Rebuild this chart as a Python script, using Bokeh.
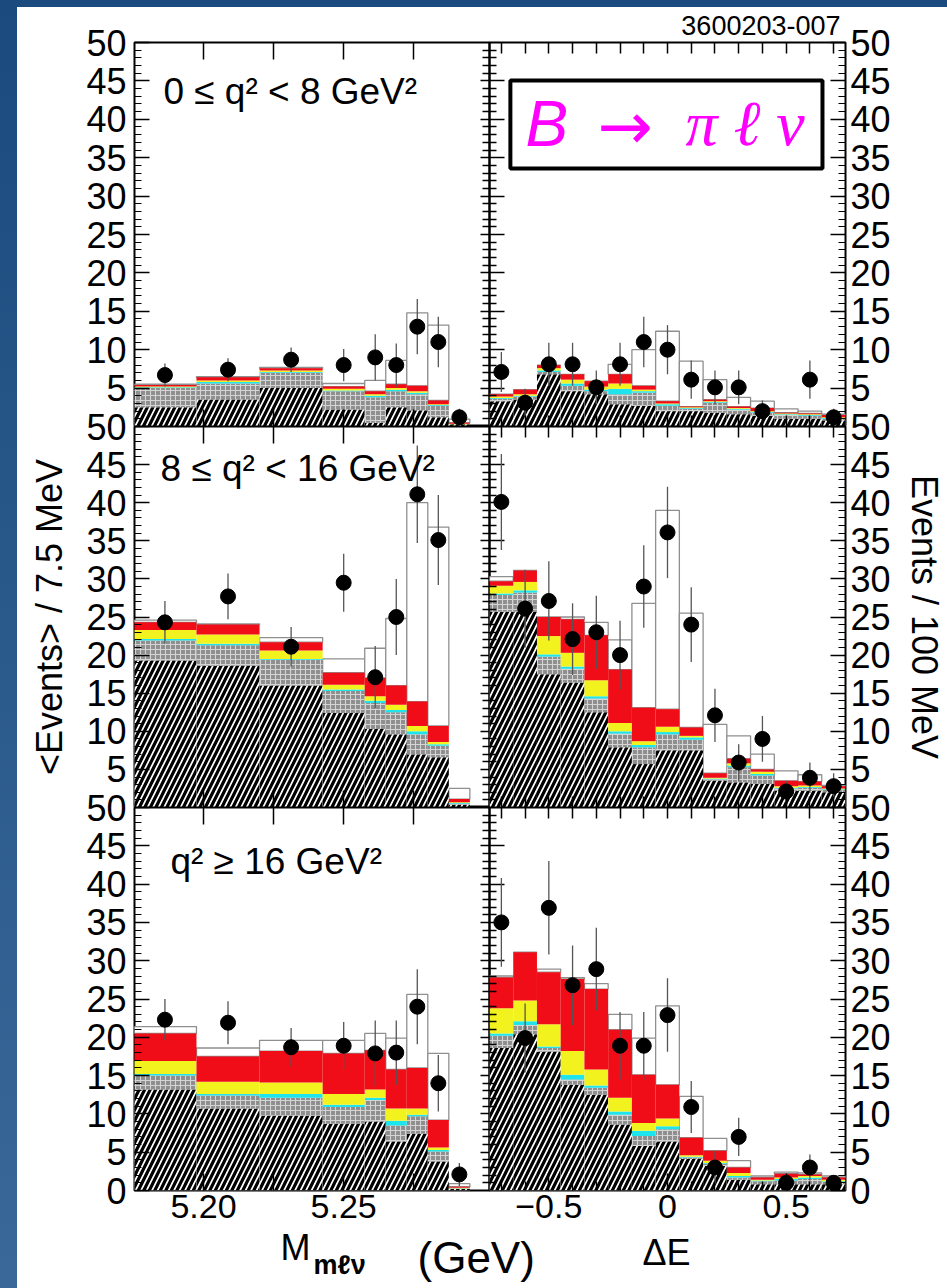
import numpy as np
from bokeh.plotting import figure
from bokeh.models import (Range1d, LinearAxis, FixedTicker, Label,
                          BoxAnnotation, ColumnDataSource, Spacer)
from bokeh.layouts import row, column
from bokeh.embed import file_html
from bokeh.resources import INLINE

NAN = float("nan")

# ---------------- bins and ticks ----------------
M_EDGES = [5.175, 5.1975, 5.22, 5.2425, 5.2575, 5.265, 5.2725, 5.28, 5.2875, 5.295]
DE_EDGES = [-0.75, -0.65, -0.55, -0.45, -0.35, -0.25, -0.15, -0.05,
            0.05, 0.15, 0.25, 0.35, 0.45, 0.55, 0.65, 0.75]
M_MAJOR = [5.2, 5.25]
M_MINOR = [5.225, 5.275]
M_ALL = [5.2, 5.225, 5.25, 5.275]
DE_MAJOR = [-0.5, 0, 0.5]
DE_MINOR = [-0.7, -0.6, -0.4, -0.3, -0.2, -0.1, 0.1, 0.2, 0.3, 0.4, 0.6, 0.7]
DE_ALL = [-0.7, -0.6, -0.5, -0.4, -0.3, -0.2, -0.1, 0, 0.1, 0.2, 0.3, 0.4, 0.5, 0.6, 0.7]
Y_MAJOR_FULL = [0, 5, 10, 15, 20, 25, 30, 35, 40, 45, 50]
Y_MAJOR_NOZERO = [5, 10, 15, 20, 25, 30, 35, 40, 45, 50]
Y_INNER_MAJOR = [5, 10, 15, 20, 25, 30, 35, 40, 45]
Y_MINOR = [v for v in range(1, 50) if v % 5]

# ---------------- top row: 0 <= q2 < 8 ----------------
TL_HATCH = [2.5, 3.5, 5.0, 2.2, 0.5, 2.5, 2.1, 1.2, 0.3]
TL_GRAY = [5.0, 5.6, 7.0, 4.6, 3.8, 4.6, 4.2, 2.7, 0.3]
TL_CYAN = [5.1, 5.8, 7.1, 4.7, 4.0, 4.8, 4.4, 2.8, 0.3]
TL_YELLOW = [5.2, 6.0, 7.3, 4.9, 4.2, 5.0, 4.6, 2.9, 0.35]
TL_RED = [5.4, 6.4, 7.6, 5.2, 4.6, 5.5, 5.3, 3.4, 0.5]
TL_TOTAL = [5.5, 6.5, 7.7, 5.6, 6.0, 8.6, 14.8, 13.2, 0.95]
TL_DATA = [6.7, 7.4, 8.7, 8.0, 9.0, 8.0, 13.0, 11.0, 1.2]
TL_ERR = [1.5, 1.5, 1.6, 2.1, 3.0, 2.8, 3.6, 3.3, 1.1]

TR_HATCH = [3.3, 3.5, 6.8, 4.6, 4.2, 2.9, 2.7, 2.0, 2.0, 1.8, 1.6, 1.4, 1.0, 1.0, 0.8]
TR_GRAY = [3.6, 3.9, 7.1, 5.3, 4.6, 4.2, 4.4, 2.7, 2.3, 3.1, 2.2, 1.8, 1.5, 1.4, 1.0]
TR_CYAN = [3.7, 4.0, 7.3, 5.6, 4.8, 4.9, 4.6, 2.9, 2.4, 3.2, 2.3, 1.9, 1.6, 1.5, 1.1]
TR_YELLOW = [3.9, 4.2, 7.6, 6.1, 5.2, 5.6, 4.8, 3.0, 2.5, 3.3, 2.4, 2.0, 1.7, 1.6, 1.2]
TR_RED = [4.2, 4.8, 8.0, 6.8, 5.9, 6.8, 5.3, 3.3, 2.6, 3.5, 2.6, 2.4, 1.8, 1.7, 1.5]
TR_TOTAL = [4.2, 4.8, 8.0, 6.8, 5.9, 8.1, 10.0, 12.4, 8.5, 6.1, 3.8, 3.3, 2.3, 2.0, 1.6]
TR_DATA = [7.1, 3.1, 8.1, 8.1, 5.1, 8.1, 11.0, 10.0, 6.1, 5.1, 5.1, 2.0, NAN, 6.1, 1.2]
TR_ERR = [2.6, 1.8, 2.8, 2.8, 2.2, 2.8, 3.3, 3.2, 2.5, 2.2, 2.2, 1.4, 0.0, 2.5, 1.1]

# ---------------- middle row: 8 <= q2 < 16 ----------------
ML_HATCH = [19.3, 18.6, 16.0, 12.4, 10.3, 9.6, 7.0, 6.6, 0.4]
ML_GRAY = [21.9, 21.3, 19.4, 15.3, 13.7, 12.5, 9.6, 8.1, 0.5]
ML_CYAN = [22.1, 21.5, 19.5, 15.5, 14.0, 12.8, 10.0, 8.3, 0.6]
ML_YELLOW = [23.3, 22.7, 20.6, 16.1, 14.6, 13.5, 10.7, 8.6, 0.7]
ML_RED = [24.3, 24.0, 21.7, 17.7, 17.0, 16.0, 13.9, 10.7, 1.1]
ML_TOTAL = [24.6, 24.1, 22.3, 19.5, 20.9, 24.8, 40.0, 36.8, 2.5]
ML_DATA = [24.3, 27.7, 21.1, 29.5, 17.1, 25.0, 41.1, 35.1, NAN]
ML_ERR = [2.8, 3.0, 2.6, 3.8, 4.1, 5.0, 6.4, 5.9, 0.0]

MR_HATCH = [25.7, 25.7, 17.5, 16.4, 12.5, 7.9, 5.7, 7.5, 7.5, 3.5, 3.3, 3.1, 2.2, 2.2, 2.0]
MR_GRAY = [27.9, 28.2, 19.8, 18.2, 14.3, 9.7, 7.9, 9.6, 8.9, 3.7, 5.3, 4.2, 2.5, 2.6, 2.3]
MR_CYAN = [28.1, 28.5, 20.1, 18.5, 14.6, 10.0, 8.2, 9.9, 9.2, 3.8, 5.5, 4.4, 2.6, 2.7, 2.4]
MR_YELLOW = [29.1, 29.6, 22.5, 20.3, 16.7, 11.1, 8.7, 10.6, 9.4, 3.9, 5.8, 4.7, 2.8, 2.9, 2.5]
MR_RED = [29.7, 31.1, 25.0, 24.7, 22.6, 18.1, 13.1, 12.9, 10.5, 4.5, 6.4, 5.0, 3.5, 3.4, 2.8]
MR_TOTAL = [30.3, 31.1, 25.0, 25.0, 24.3, 22.0, 26.8, 39.0, 25.5, 10.9, 9.4, 7.0, 4.8, 4.3, 2.9]
MR_DATA = [40.1, 26.1, 27.1, 22.1, 23.0, 20.0, 29.0, 36.1, 24.0, 12.1, 5.9, 9.0, 2.1, 3.9, 2.8]
MR_ERR = [6.3, 5.1, 5.2, 4.7, 4.8, 4.5, 5.4, 6.0, 4.9, 3.5, 2.4, 3.0, 1.4, 2.0, 1.7]

# ---------------- bottom row: q2 >= 16 ----------------
BL_HATCH = [13.2, 10.7, 9.8, 8.7, 9.0, 6.4, 7.4, 3.8, 0.2]
BL_GRAY = [15.0, 12.4, 12.1, 10.9, 11.8, 8.5, 9.7, 5.1, 0.25]
BL_CYAN = [15.2, 12.6, 12.6, 11.2, 12.1, 9.1, 9.9, 5.3, 0.3]
BL_YELLOW = [16.9, 14.2, 14.1, 12.6, 13.2, 10.7, 10.7, 5.6, 0.35]
BL_RED = [20.5, 17.5, 18.2, 17.9, 18.3, 15.8, 16.0, 9.2, 0.5]
BL_TOTAL = [21.4, 18.6, 19.6, 19.6, 20.5, 19.9, 25.6, 17.9, 0.9]
BL_DATA = [22.3, 21.9, 18.7, 18.9, 17.9, 18.0, 24.0, 14.0, 2.1]
BL_ERR = [2.7, 2.8, 2.5, 3.1, 4.3, 4.2, 4.9, 3.7, 1.5]

BR_HATCH = [18.6, 20.4, 18.1, 13.8, 12.5, 8.6, 5.8, 6.4, 4.1, 3.2, 1.4, 0.8, 0.8, 0.8, 0.8]
BR_GRAY = [20.2, 21.6, 18.6, 14.5, 13.4, 9.9, 7.1, 8.0, 4.3, 3.5, 1.7, 1.2, 1.3, 1.5, 1.1]
BR_CYAN = [20.5, 22.1, 18.8, 15.1, 13.7, 10.3, 7.8, 8.4, 4.4, 3.6, 1.9, 1.3, 1.5, 1.7, 1.2]
BR_YELLOW = [23.8, 24.8, 21.7, 18.2, 15.8, 12.1, 8.8, 9.4, 4.6, 3.9, 2.3, 1.4, 1.7, 1.9, 1.4]
BR_RED = [27.8, 31.1, 28.5, 27.6, 26.3, 21.0, 15.1, 13.8, 6.9, 5.2, 3.0, 1.7, 2.2, 2.1, 1.7]
BR_TOTAL = [28.0, 31.1, 28.9, 27.8, 27.0, 23.0, 19.9, 24.1, 12.3, 6.8, 3.9, 1.9, 2.4, 2.3, 1.9]
BR_DATA = [35.0, 19.9, 36.9, 26.8, 28.9, 18.9, 18.9, 22.9, 10.9, 3.0, 7.0, NAN, 1.0, 3.0, 1.0]
BR_ERR = [5.8, 4.5, 6.1, 5.2, 5.4, 4.4, 4.4, 4.8, 3.4, 2.2, 2.5, 0.0, 1.0, 1.7, 1.0]

# ---------------- style ----------------
FONT = "Liberation Sans"
SERIF = "Liberation Serif"
RED = "#f00d17"
YELLOW = "#f2f21e"
CYAN = "#1ee4ee"
GRAYFILL = "#8e8e8e"
OUTLINE = "#8f8f8f"
MAGENTA = "#ff00ff"

M_RANGE = (5.1754, 5.302)
DE_RANGE = (-0.75, 0.75)


def panel(xr, w, h, bl, br, bt, bb):
    p = figure(width=w, height=h, x_range=Range1d(*xr), y_range=Range1d(0, 50),
               output_backend="svg", toolbar_location=None,
               x_axis_location=None, y_axis_location=None,
               min_border_left=bl, min_border_right=br,
               min_border_top=bt, min_border_bottom=bb,
               background_fill_color=None, border_fill_color=None,
               outline_line_color="black", outline_line_width=2)
    p.grid.visible = False
    return p


def caption(w, h):
    p = figure(width=w, height=h, x_range=Range1d(0, w), y_range=Range1d(0, h),
               output_backend="svg", toolbar_location=None,
               x_axis_location=None, y_axis_location=None,
               min_border_left=0, min_border_right=0,
               min_border_top=0, min_border_bottom=0,
               background_fill_color=None, border_fill_color=None,
               outline_line_color=None)
    p.grid.visible = False
    return p


def draw(p, edges, hatch, gray, cyan, yellow, red, total, data, err):
    left = np.array(edges[:-1])
    right = np.array(edges[1:])
    d = np.array(data, dtype=float)
    e = np.array(err, dtype=float)
    src = ColumnDataSource(dict(
        left=left, right=right, xc=(left + right) / 2,
        hatch=np.array(hatch), gray=np.array(gray), cyan=np.array(cyan),
        yellow=np.array(yellow), red=np.array(red), total=np.array(total),
        data=d, lo=d - e, hi=d + e))
    # fitted signal stacked on the backgrounds (open histogram)
    p.quad(left="left", right="right", bottom="red", top="total", source=src,
           fill_color="white", line_color=OUTLINE, line_width=1.3)
    p.quad(left="left", right="right", bottom=0, top="hatch", source=src,
           fill_color="white", line_color=None,
           hatch_pattern="right_diagonal_line", hatch_color="black",
           hatch_scale=11, hatch_weight=3.2)
    p.quad(left="left", right="right", bottom="hatch", top="gray", source=src,
           fill_color=GRAYFILL, line_color=None,
           hatch_pattern="cross", hatch_color="#d4d4d4",
           hatch_scale=5, hatch_weight=1.1)
    p.quad(left="left", right="right", bottom="gray", top="cyan", source=src,
           fill_color=CYAN, line_color=None)
    p.quad(left="left", right="right", bottom="cyan", top="yellow", source=src,
           fill_color=YELLOW, line_color=None)
    p.quad(left="left", right="right", bottom="yellow", top="red", source=src,
           fill_color=RED, line_color=None)
    p.segment(x0="xc", y0="lo", x1="xc", y1="hi", source=src,
              line_color="#555555", line_width=1.3)
    p.scatter(x="xc", y="data", source=src, size=15, color="black")


def yaxis(p, side, with_zero, title=None):
    ax = LinearAxis(ticker=FixedTicker(ticks=Y_MAJOR_FULL if with_zero else Y_MAJOR_NOZERO,
                                       minor_ticks=Y_MINOR),
                    major_tick_in=15, major_tick_out=0,
                    minor_tick_in=7, minor_tick_out=0,
                    major_tick_line_width=1.5, minor_tick_line_width=1.2,
                    axis_line_color=None,
                    major_label_standoff=8 if side == "left" else 5,
                    major_label_text_font=FONT,
                    major_label_text_font_size="36px",
                    major_label_text_color="black")
    if title:
        ax.axis_label = title
        ax.axis_label_text_font = FONT
        ax.axis_label_text_font_size = "36px"
        ax.axis_label_text_font_style = "normal"
        ax.axis_label_text_color = "black"
        ax.axis_label_standoff = 13 if side == "left" else 10
    p.add_layout(ax, side)


def divider_ticks(p, side):
    """Tick marks (no labels) on the shared edge between the two columns."""
    if side == "right":   # on the right edge of a left panel
        ax = LinearAxis(ticker=FixedTicker(ticks=[], minor_ticks=Y_INNER_MAJOR),
                        minor_tick_in=9, minor_tick_out=15)
    else:                 # on the left edge of a right panel
        ax = LinearAxis(ticker=FixedTicker(ticks=[], minor_ticks=Y_MINOR),
                        minor_tick_in=7, minor_tick_out=7)
    ax.major_tick_in = 0
    ax.major_tick_out = 0
    ax.minor_tick_line_width = 1.3
    ax.axis_line_color = None
    ax.major_label_standoff = 0
    p.add_layout(ax, side)


def tick_axis(p, kind, tick_out):
    """Axis at the top edge of a frame that draws tick marks only."""
    if kind == "m":
        ticker = FixedTicker(ticks=[], minor_ticks=M_ALL)
        length = 17
    else:
        ticker = FixedTicker(ticks=[], minor_ticks=DE_ALL)
        length = 11
    ax = LinearAxis(ticker=ticker, minor_tick_in=length,
                    minor_tick_out=(length if tick_out else 0),
                    major_tick_in=0, major_tick_out=0,
                    minor_tick_line_width=1.5, axis_line_color=None,
                    major_label_standoff=0)
    p.add_layout(ax, "above")


def label_axis(p, kind):
    if kind == "m":
        ticker = FixedTicker(ticks=M_MAJOR, minor_ticks=M_MINOR)
        overrides = {5.2: "5.20"}
        minor_len = 17
    else:
        ticker = FixedTicker(ticks=DE_MAJOR, minor_ticks=DE_MINOR)
        overrides = {-0.5: "\u22120.5"}
        minor_len = 9
    ax = LinearAxis(ticker=ticker, major_label_overrides=overrides,
                    major_tick_in=17, major_tick_out=0,
                    minor_tick_in=minor_len, minor_tick_out=0,
                    major_tick_line_width=1.5, minor_tick_line_width=1.3,
                    axis_line_color=None,
                    major_label_text_font=FONT, major_label_text_font_size="34px",
                    major_label_text_color="black", major_label_standoff=4)
    p.add_layout(ax, "below")


def text(p, s, x, y, size, font=FONT, style="normal", color="black", align="left"):
    p.add_layout(Label(x=x, y=y, text=s, text_font=font, text_font_size=size,
                       text_font_style=style, text_color=color, text_align=align,
                       text_baseline="middle"))


# widths: left figures reach 20 px past the divider, right figures start 20 px before it
LW, RW, OV = 492, 478, 20


def left_panel(h, bt, bb):
    p = panel(M_RANGE, LW, h, 117, OV, bt, bb)
    p.margin = (0, -2 * OV, 0, 0)
    divider_ticks(p, "right")
    return p


def right_panel(h, bt, bb):
    p = panel(DE_RANGE, RW, h, OV, 102, bt, bb)
    divider_ticks(p, "left")
    return p


# ---------------- top caption (above the panels) ----------------
cap_top = caption(930, 35)
text(cap_top, "3600203-007", 823, 17, "27px", align="right")

# ---------------- top row ----------------
p_tl = left_panel(404, 20, 0)
draw(p_tl, M_EDGES, TL_HATCH, TL_GRAY, TL_CYAN, TL_YELLOW, TL_RED, TL_TOTAL, TL_DATA, TL_ERR)
yaxis(p_tl, "left", False)
tick_axis(p_tl, "m", False)
text(p_tl, "0 \u2264 q\u00b2 < 8 GeV\u00b2", 5.1857, 43.6, "37px")

p_tr = right_panel(404, 20, 0)
draw(p_tr, DE_EDGES, TR_HATCH, TR_GRAY, TR_CYAN, TR_YELLOW, TR_RED, TR_TOTAL, TR_DATA, TR_ERR)
yaxis(p_tr, "right", False)
tick_axis(p_tr, "de", False)
p_tr.add_layout(BoxAnnotation(left=-0.662, right=0.653, bottom=33.6, top=45.05,
                              fill_color="white", fill_alpha=1.0,
                              line_color="black", line_alpha=1.0, line_width=4))
text(p_tr, "B", -0.598, 39.4, "64px", FONT, "italic", MAGENTA)
text(p_tr, "\u2192", -0.295, 39.0, "66px", "DejaVu Sans", "normal", MAGENTA)
text(p_tr, "\u03c0 \u2113 \u03bd", 0.076, 39.4, "64px", SERIF, "italic", MAGENTA)

# ---------------- middle row ----------------
p_ml = left_panel(401, 20, 0)
draw(p_ml, M_EDGES, ML_HATCH, ML_GRAY, ML_CYAN, ML_YELLOW, ML_RED, ML_TOTAL, ML_DATA, ML_ERR)
yaxis(p_ml, "left", False, "<Events> / 7.5 MeV")
tick_axis(p_ml, "m", True)
text(p_ml, "8 \u2264 q\u00b2 < 16 GeV\u00b2", 5.1847, 44.5, "37px")

p_mr = right_panel(401, 20, 0)
draw(p_mr, DE_EDGES, MR_HATCH, MR_GRAY, MR_CYAN, MR_YELLOW, MR_RED, MR_TOTAL, MR_DATA, MR_ERR)
yaxis(p_mr, "right", False, "Events / 100 MeV")
tick_axis(p_mr, "de", True)

# ---------------- bottom row ----------------
p_bl = left_panel(449, 20, 46)
draw(p_bl, M_EDGES, BL_HATCH, BL_GRAY, BL_CYAN, BL_YELLOW, BL_RED, BL_TOTAL, BL_DATA, BL_ERR)
yaxis(p_bl, "left", True)
tick_axis(p_bl, "m", True)
label_axis(p_bl, "m")
text(p_bl, "q\u00b2 \u2265 16 GeV\u00b2", 5.1882, 42.95, "37px")

p_br = right_panel(449, 20, 46)
draw(p_br, DE_EDGES, BR_HATCH, BR_GRAY, BR_CYAN, BR_YELLOW, BR_RED, BR_TOTAL, BR_DATA, BR_ERR)
yaxis(p_br, "right", True)
tick_axis(p_br, "de", True)
label_axis(p_br, "de")

# ---------------- bottom caption (axis titles), overlapping the tick-label strip ----------------
cap_bot = caption(930, 82)
cap_bot.margin = (-30, 0, 0, 0)
text(cap_bot, "M", 263, 41.5, "36px")
text(cap_bot, "m\u2113\u03bd", 296, 23.5, "27px", style="bold")
text(cap_bot, "(GeV)", 400, 31, "44px")
text(cap_bot, "\u0394E", 649, 36, "36px", align="center")

# ---------------- page layout ----------------
BLUE_TOP = "#1b4a7e"
BLUE_BOTTOM = "#3a6899"
left_strip = Spacer(width=17, height=1288,
                    styles={"background": f"linear-gradient({BLUE_TOP}, {BLUE_BOTTOM})"})
top_strip = Spacer(width=930, height=7, styles={"background": BLUE_TOP})

r1 = row(p_tl, p_tr)
r1.margin = (-20, 0, 0, 0)
r2 = row(p_ml, p_mr)
r2.margin = (-20, 0, 0, 0)
r3 = row(p_bl, p_br)
r3.margin = (-20, 0, 0, 0)

content = column(top_strip, cap_top, r1, r2, r3, cap_bot, styles={"background": "white"})
root = row(left_strip, content)

open("out.html", "w").write(file_html(root, INLINE, title="B to pi l nu"))
